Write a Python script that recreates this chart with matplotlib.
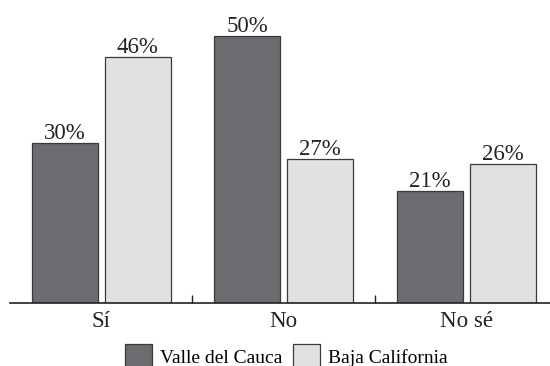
import matplotlib.pyplot as plt
from matplotlib.patches import Patch
import numpy as np

# Respuestas por región
categorias = ["Sí", "No", "No sé"]
valle_cauca = [30, 50, 21]
baja_california = [46, 27, 26]
series = ["Valle del Cauca", "Baja California"]

color_oscuro = "#6b6c70"
color_claro = "#e0e1e3"
borde = "#3a3a3a"

plt.rcParams["font.family"] = ["Liberation Serif", "DejaVu Serif"]

fig = plt.figure(figsize=(5.5, 3.66), dpi=100)
ax = fig.add_axes([10 / 550, 63 / 366, 1 - 10 / 550, 303 / 366])

x = np.arange(len(categorias))
ancho = 0.362
b1 = ax.bar(x - 0.2, valle_cauca, ancho, color=color_oscuro, edgecolor=borde, linewidth=0.9)
b2 = ax.bar(x + 0.2, baja_california, ancho, color=color_claro, edgecolor=borde, linewidth=0.9)

# Etiquetas de porcentaje sobre cada barra
for barras, vals in ((b1, valle_cauca), (b2, baja_california)):
    for rect, v in zip(barras, vals):
        ax.annotate(f"{v}%", (rect.get_x() + rect.get_width() / 2, rect.get_height()),
                    xytext=(0, -1), textcoords="offset points",
                    ha="center", va="bottom", fontsize=16.5, color="#222222")

ax.set_xlim(-0.5, 2.46)
ax.set_ylim(0, 303 / 5.35)

for lado in ("left", "right", "top"):
    ax.spines[lado].set_visible(False)
ax.spines["bottom"].set_linewidth(1.2)
ax.spines["bottom"].set_color("#222222")
ax.set_yticks([])

ax.set_xticks(x)
ax.set_xticklabels(categorias, fontsize=16.5, color="#222222")
ax.tick_params(axis="x", which="major", length=0, pad=6)
ax.set_xticks([0.5, 1.5], minor=True)
ax.tick_params(axis="x", which="minor", direction="in", length=6, width=1, color="#222222")

handles = [Patch(facecolor=color_oscuro, edgecolor=borde, linewidth=0.9),
           Patch(facecolor=color_claro, edgecolor=borde, linewidth=0.9)]
fig.legend(handles, series, loc="upper center", bbox_to_anchor=(0.52, 22 / 366),
           ncol=2, frameon=False, fontsize=14, handlelength=1.4, handleheight=1.6,
           handletextpad=0.4, columnspacing=0.55, borderpad=0, borderaxespad=0)

fig.savefig("out.png", dpi=100)
